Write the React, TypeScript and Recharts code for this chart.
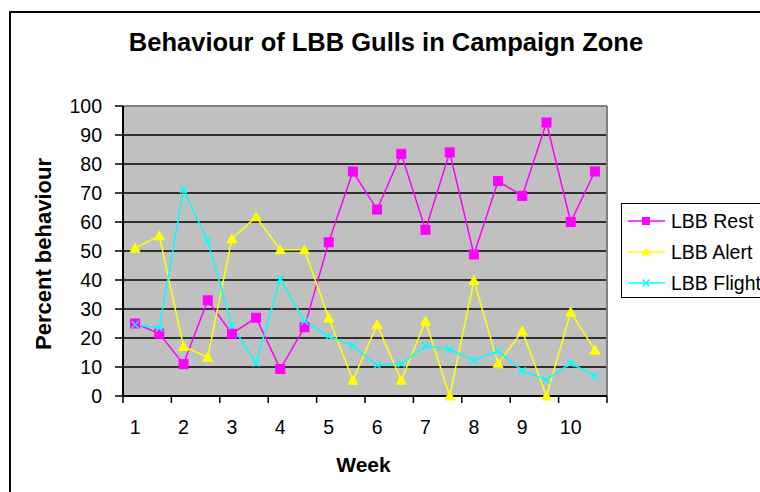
import React from 'react';
import { LineChart, Line, XAxis, YAxis, CartesianGrid, Legend, ReferenceLine } from 'recharts';

// ─── data ─────────────────────────────────────────────────────────────────────

const weeks = [1, 1.5, 2, 2.5, 3, 3.5, 4, 4.5, 5, 5.5, 6, 6.5, 7, 7.5, 8, 8.5, 9, 9.5, 10, 10.5];
const lbbRest = [25, 21.5, 11, 33, 21.5, 27, 9.3, 23.7, 53, 77.4, 64.3, 83.5, 57.3, 84, 48.8, 74.1, 69, 94.3, 60, 77.4];
const lbbAlert = [51, 55.2, 17.1, 13.4, 54.2, 61.8, 50.4, 50.4, 26.9, 5.4, 24.6, 5.4, 25.8, 0, 39.8, 11.1, 22.4, 0, 28.9, 15.8];
const lbbFlight = [24.6, 23.5, 71.2, 53.4, 24.3, 11.4, 40.3, 25.8, 20.6, 17.3, 10.7, 11.1, 17.3, 16, 12.3, 15.5, 8.7, 5.6, 11.3, 6.9];

const seriesNames = ['LBB Rest', 'LBB Alert', 'LBB Flight'];
const weekLabels = [1, 2, 3, 4, 5, 6, 7, 8, 9, 10];
const yTicks = [0, 10, 20, 30, 40, 50, 60, 70, 80, 90, 100];

// ─── style ────────────────────────────────────────────────────────────────────

const FONT = '"Liberation Sans", Arial, sans-serif';
const REST = '#FF00FF';
const ALERT = '#FFFF00';
const FLIGHT = '#00FFFF';

const chartData = weeks.map((w, i) => ({
  week: w,
  [seriesNames[0]]: lbbRest[i],
  [seriesNames[1]]: lbbAlert[i],
  [seriesNames[2]]: lbbFlight[i],
}));

// labels sit on whole weeks, tick marks sit between them
const boundaries = [...weekLabels.map((w) => w - 0.25), weekLabels[weekLabels.length - 1] + 0.75];
const xTicks = [...weekLabels, ...boundaries].sort((a, b) => a - b);

// ─── markers ──────────────────────────────────────────────────────────────────

function square(cx: number, cy: number, s: number, key?: any) {
  return <rect key={key} x={cx - s / 2} y={cy - s / 2} width={s} height={s} fill={REST} stroke={REST} />;
}

function triangle(cx: number, cy: number, s: number, key?: any) {
  const h = s / 2;
  return (
    <polygon
      key={key}
      points={`${cx},${cy - h - 0.5} ${cx - h - 0.5},${cy + h - 0.5} ${cx + h + 0.5},${cy + h - 0.5}`}
      fill={ALERT}
      stroke={ALERT}
    />
  );
}

function cross(cx: number, cy: number, s: number, key?: any) {
  const h = s / 2;
  return (
    <g key={key} stroke={FLIGHT} strokeWidth={1.5}>
      <line x1={cx - h} y1={cy - h} x2={cx + h} y2={cy + h} />
      <line x1={cx - h} y1={cy + h} x2={cx + h} y2={cy - h} />
    </g>
  );
}

const MARKERS: Record<string, (cx: number, cy: number, s: number, key?: any) => React.ReactElement> = {
  'LBB Rest': square,
  'LBB Alert': triangle,
  'LBB Flight': cross,
};

// ─── axis pieces ──────────────────────────────────────────────────────────────

function WeekTick(props: any) {
  const { x, y, payload } = props;
  if (Number.isInteger(payload.value)) {
    return (
      <text x={x} y={y + 38} textAnchor="middle" fontFamily={FONT} fontSize={19.5} fill="#000">
        {payload.value}
      </text>
    );
  }
  return <line x1={x} x2={x} y1={y} y2={y + 7} stroke="#000" strokeWidth={1.5} />;
}

function LegendBox(props: any) {
  // keep series order (Recharts sorts the payload by name)
  const items = [...(props.payload || [])].sort(
    (a: any, b: any) => seriesNames.indexOf(a.value) - seriesNames.indexOf(b.value),
  );
  return (
    <svg width={160} height={95} style={{ display: 'block' }}>
      <rect x={0.5} y={0.5} width={170} height={94} fill="#fff" stroke="#000" />
      {items.map((it: any, i: number) => {
        const cy = 18 + i * 31;
        const mark = MARKERS[it.value];
        return (
          <g key={it.value}>
            <line x1={7} x2={44} y1={cy} y2={cy} stroke={it.color} strokeWidth={1.5} />
            {mark && mark(25, cy, 7)}
            <text x={50} y={cy + 6.5} fontFamily={FONT} fontSize={19.5} fill="#000">
              {it.value}
            </text>
          </g>
        );
      })}
    </svg>
  );
}

// ─── chart ────────────────────────────────────────────────────────────────────

export default function App() {
  return (
    <div style={{ position: 'absolute', left: 0, top: 0, width: 760, height: 492, overflow: 'hidden', background: '#fff' }}>
      <div style={{
        position: 'absolute', left: 9, top: 11, width: 900, height: 700,
        border: '2px solid #000', boxSizing: 'border-box',
      }} />
      <div style={{ position: 'absolute', left: 0, top: 0 }}>
        <LineChart width={760} height={492} data={chartData} margin={{ top: 106, right: 153, bottom: 56, left: 63 }}>
          <CartesianGrid vertical={false} stroke="#000" strokeWidth={1.5} fill="#C0C0C0" fillOpacity={1} />
          <ReferenceLine y={100} stroke="#808080" strokeWidth={2} />
          <ReferenceLine x={10.75} stroke="#808080" strokeWidth={2} />
          <XAxis
            dataKey="week"
            type="number"
            domain={[0.75, 10.75]}
            ticks={xTicks}
            interval={0}
            height={40}
            tickLine={false}
            tickSize={0}
            tickMargin={0}
            axisLine={{ stroke: '#000', strokeWidth: 2 }}
            tick={WeekTick}
            label={(p: any) => {
              const vb = p.viewBox || {};
              return (
                <text x={vb.x + vb.width / 2 - 1.5} y={472} textAnchor="middle" fontFamily={FONT} fontSize={21} fontWeight="bold" fill="#000">
                  Week
                </text>
              );
            }}
          />
          <YAxis
            type="number"
            domain={[0, 100]}
            ticks={yTicks}
            interval={0}
            width={60}
            tickSize={8}
            tickMargin={13}
            tickLine={{ stroke: '#000', strokeWidth: 1.5 }}
            axisLine={{ stroke: '#000', strokeWidth: 2 }}
            tick={{ fill: '#000', fontSize: 19.5, fontFamily: FONT }}
            label={(p: any) => {
              const vb = p.viewBox || {};
              const cy = vb.y + vb.height / 2 + 3;
              return (
                <text
                  x={43}
                  y={cy}
                  transform={`rotate(-90 43 ${cy})`}
                  textAnchor="middle"
                  dominantBaseline="central"
                  fontFamily={FONT}
                  fontSize={22}
                  fontWeight="bold"
                  fill="#000"
                >
                  Percent behaviour
                </text>
              );
            }}
          />
          <Legend
            layout="vertical"
            align="center"
            verticalAlign="middle"
            content={LegendBox}
            wrapperStyle={{ left: 621, top: 203, width: 160, height: 95 }}
          />
          <Line
            type="linear"
            dataKey="LBB Rest"
            stroke={REST}
            strokeWidth={1.5}
            isAnimationActive={false}
            dot={(p: any) => square(p.cx, p.cy, 9, p.index)}
            activeDot={false}
          />
          <Line
            type="linear"
            dataKey="LBB Alert"
            stroke={ALERT}
            strokeWidth={1.5}
            isAnimationActive={false}
            dot={(p: any) => triangle(p.cx, p.cy, 9, p.index)}
            activeDot={false}
          />
          <Line
            type="linear"
            dataKey="LBB Flight"
            stroke={FLIGHT}
            strokeWidth={1.5}
            isAnimationActive={false}
            dot={(p: any) => cross(p.cx, p.cy, 7, p.index)}
            activeDot={false}
          />
        </LineChart>
      </div>
      <div style={{
        position: 'absolute', left: 0, top: 30, width: 772, textAlign: 'center',
        fontFamily: FONT, fontSize: 25.5, fontWeight: 'bold', lineHeight: 1, color: '#000',
        whiteSpace: 'nowrap',
      }}>
        Behaviour of LBB Gulls in Campaign Zone
      </div>
    </div>
  );
}
